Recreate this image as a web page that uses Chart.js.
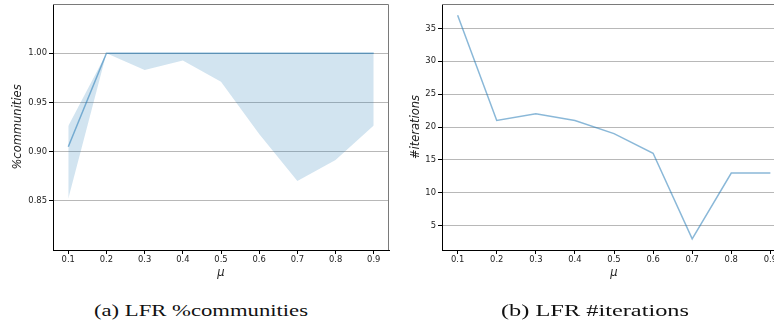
<!DOCTYPE html>
<html>
<head>
<meta charset="utf-8">
<script src="https://cdn.jsdelivr.net/npm/chart.js@4"></script>
<style>
  html, body { margin:0; padding:0; background:#fff; }
  body { width:774px; height:324px; overflow:hidden; position:relative; }
  .box { position:absolute; top:0; height:290px; }
  .cap { position:absolute; top:301px; font-family:"Liberation Serif","DejaVu Serif",serif; font-size:17px; color:#111; white-space:nowrap; transform-origin:0 0; line-height:20px; }
</style>
</head>
<body>
<div class="box" style="left:0;width:392px;"><canvas id="c1"></canvas></div>
<div class="box" style="left:385px;width:404px;"><canvas id="c2"></canvas></div>
<div class="cap" id="capA" data-w="214" style="left:94px;">(a) LFR %communities</div>
<div class="cap" id="capB" data-w="188" style="left:501px;">(b) LFR #iterations</div>
<script>
// ---- data ----
const mu = [0.1, 0.2, 0.3, 0.4, 0.5, 0.6, 0.7, 0.8, 0.9];
const pctMean  = [0.905, 1.0, 1.0, 1.0, 1.0, 1.0, 1.0, 1.0, 1.0];
const pctUpper = [0.926, 1.0, 1.0, 1.0, 1.0, 1.0, 1.0, 1.0, 1.0];
const pctLower = [0.852, 1.0, 0.983, 0.9925, 0.971, 0.918, 0.870, 0.8915, 0.9265];
const iterations = [37, 21, 22, 21, 19, 16, 3, 13, 13];
const pctTicks = [0.85, 0.90, 0.95, 1.00];
const iterTicks = [5, 10, 15, 20, 25, 30, 35];
const xLabel = 'μ';
const yLabelA = '%communities';
const yLabelB = '#iterations';

const BLUE_LINE = 'rgba(31,119,180,0.52)';
const BLUE_FILL = 'rgba(31,119,180,0.2)';
const GRID = '#b8b8b8';
const tickFont = { family: 'DejaVu Sans', size: 8.4 };
const titleFont = { family: 'DejaVu Sans', size: 11.5, style: 'italic' };

const pts = (ys) => mu.map((x, i) => ({ x, y: ys[i] }));

const frame = {
  id: 'frame',
  afterDraw(chart) {
    const { ctx, chartArea: { left, right, top, bottom } } = chart;
    ctx.save();
    ctx.strokeStyle = '#7a7a7a';
    ctx.lineWidth = 1;
    ctx.beginPath();
    ctx.moveTo(left, top + 0.5);
    ctx.lineTo(right - 0.5, top + 0.5);
    ctx.lineTo(right - 0.5, bottom);
    ctx.stroke();
    ctx.restore();
  }
};

function xScale() {
  return {
    type: 'linear', min: 0.06, max: 0.94,
    afterBuildTicks: (s) => { s.ticks = mu.map(v => ({ value: v })); },
    afterFit: (s) => { s.height = 40; },
    grid: { drawOnChartArea: false, drawTicks: true, tickLength: 4, tickColor: '#000' },
    border: { color: '#000', width: 1 },
    ticks: { font: tickFont, color: '#222', padding: 1, maxRotation: 0, callback: (v) => Number(v).toFixed(1) },
    title: { display: true, text: xLabel, font: titleFont, color: '#222', padding: { top: 0, bottom: 10 } }
  };
}

function yScale(min, max, ticks, digits, width, label, tpad) {
  return {
    type: 'linear', min, max,
    afterBuildTicks: (s) => { s.ticks = ticks.map(v => ({ value: v })); },
    afterFit: (s) => { s.width = width; s.paddingTop = 0; s.paddingBottom = 0; },
    grid: { color: GRID, lineWidth: 1, tickLength: 4, tickColor: '#000', drawTicks: true },
    border: { color: '#000', width: 1 },
    ticks: { font: tickFont, color: '#222', padding: 2, callback: (v) => Number(v).toFixed(digits) },
    title: { display: true, text: label, font: titleFont, color: '#222', padding: { top: tpad, bottom: 0 } }
  };
}

const common = {
  responsive: true,
  maintainAspectRatio: false,
  animation: false,
  devicePixelRatio: 1,
  plugins: { legend: { display: false }, tooltip: { enabled: false } },
  elements: { point: { radius: 0 } }
};

new Chart(document.getElementById('c1'), {
  type: 'line',
  data: {
    datasets: [
      { data: pts(pctMean), borderColor: BLUE_LINE, borderWidth: 1.5, fill: false, tension: 0, order: 0 },
      { data: pts(pctUpper), borderWidth: 0, borderColor: 'rgba(0,0,0,0)', backgroundColor: BLUE_FILL, fill: '+1', tension: 0, order: 1 },
      { data: pts(pctLower), borderWidth: 0, borderColor: 'rgba(0,0,0,0)', backgroundColor: BLUE_FILL, fill: false, tension: 0, order: 2 }
    ]
  },
  options: Object.assign({}, common, {
    layout: { padding: { top: 4, right: 3, left: 0, bottom: 0 } },
    scales: {
      x: xScale(),
      y: yScale(0.80, 1.05, pctTicks, 2, 53, yLabelA, 11)
    }
  }),
  plugins: [frame]
});

new Chart(document.getElementById('c2'), {
  type: 'line',
  data: {
    datasets: [
      { data: pts(iterations), borderColor: BLUE_LINE, borderWidth: 1.5, fill: false, tension: 0 }
    ]
  },
  options: Object.assign({}, common, {
    layout: { padding: { top: 4, right: 3, left: 0, bottom: 0 } },
    scales: {
      x: xScale(),
      y: yScale(1.3, 38.7, iterTicks, 0, 57, yLabelB, 24)
    }
  }),
  plugins: [frame]
});

// stretch captions to the reference width
document.querySelectorAll('.cap').forEach(el => {
  const w = el.getBoundingClientRect().width;
  const target = parseFloat(el.dataset.w);
  el.style.transform = 'scaleX(' + (target / w) + ')';
});
</script>
</body>
</html>
